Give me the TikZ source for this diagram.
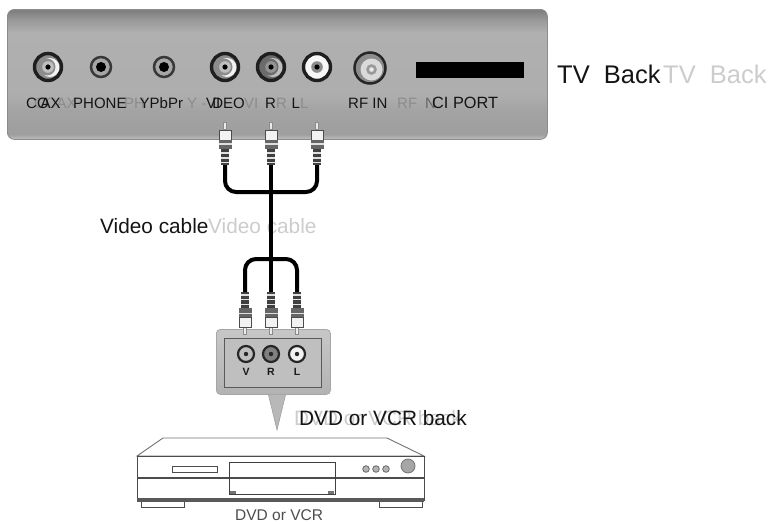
\documentclass[tikz,border=0pt]{standalone}
\usepackage{fontspec}
\setmainfont{Liberation Sans}
\pgfdeclareverticalshading{panelshade}{100bp}{
 color(0bp)=(black!25); color(25bp)=(black!25); color(27bp)=(black!38); color(36bp)=(black!36);
 color(42bp)=(black!32); color(66bp)=(black!31); color(71bp)=(black!40); color(74.5bp)=(black!50); color(75bp)=(black!50); color(100bp)=(black!50)}
\tikzset{
 x=1pt,y=-1pt,
 lbl/.style={inner sep=0pt,anchor=base west,text=black!92},
 ghost/.style={lbl,text=black!20},
 pghost/.style={lbl,text=black!45},
 big/.style={font=\fontsize{25.5}{30}\selectfont},
 mid/.style={font=\fontsize{20.8}{24}\selectfont},
 small/.style={font=\fontsize{15}{18}\selectfont},
 panelbox/.style={draw=black!45,line width=.8pt,shading=panelshade,rounded corners=7pt},
 rca/.style n args={3}{circle,inner sep=0pt,draw=black!88,line width=3.4pt,fill=#1,minimum size=27pt,path picture={
   \fill[#2] (path picture bounding box.center) ++(2,0.5) circle[radius=9.5pt];
   \fill[#1] (path picture bounding box.center) ++(-1,0) circle[radius=8.5pt];
   \fill[#3] (path picture bounding box.center) circle[radius=5.8pt];
   \fill[black] (path picture bounding box.center) circle[radius=2.6pt];}},
 phonejack/.style={circle,inner sep=0pt,draw=black!78,line width=2.5pt,fill=black!35,minimum size=20pt,
   path picture={\fill[black] (path picture bounding box.center) circle[radius=5pt];}},
 rfjack/.style={circle,inner sep=0pt,draw=black!85,line width=2.5pt,fill=black!45,minimum size=31pt,
   path picture={\fill[black!15] (path picture bounding box.center) ++(1.5,1.5) circle[radius=11pt];
   \draw[black!40] (path picture bounding box.center) ++(1.5,1.5) circle[radius=4pt];
   \fill[black!5] (path picture bounding box.center) ++(1.5,1.5) circle[radius=1.5pt];}},
 smalljack/.style={circle,inner sep=0pt,draw=black!85,line width=2.2pt,fill=#1,minimum size=16pt,
   path picture={\fill[black!85] (path picture bounding box.center) circle[radius=2.2pt];}},
 cable/.style={draw=black,line width=4pt},
 plug/.pic={
   \fill[black!45] (-2.4,0) rectangle (2.4,8);
   \fill[black!8] (-1.1,1) rectangle (1.1,7);
   \draw[black!70,fill=black!5,line width=.6pt] (-6,8) rectangle (6,18);
   \fill[black!60] (-6.5,18) rectangle (6.5,27);
   \fill[black!12] (-6.5,21) rectangle (6.5,22.5);
   \fill[black!75] (-4,27) rectangle (4,43);
   \fill[black!12] (-4,30) rectangle (4,31.5);
   \fill[black!12] (-4,35) rectangle (4,36.5);
   \fill[black!12] (-4,39.5) rectangle (4,41);
   \coordinate (end) at (0,43);
 },
}
\begin{document}
\begin{tikzpicture}
\useasboundingbox (0,0) rectangle (770,523);
% TV back panel
\node[panelbox,minimum width=540pt,minimum height=130pt,inner sep=0pt,anchor=north west] (tvpanel) at (7,9) {};
\node[rca={black!45}{black!5}{black!25}] (coax) at (48,67) {};
\node[phonejack] (phone) at (101,67) {};
\node[phonejack] (ypbpr) at (164,67) {};
\node[rca={black!45}{black!5}{black!25}] (video) at (225,67) {};
\node[rca={black!58}{black!25}{black!42}] (rjack) at (271,67) {};
\node[rca={black!3}{black!3}{black!45}] (ljack) at (317,67) {};
\node[rfjack] (rf) at (370,68) {};
\node[fill=black,inner sep=0pt,minimum width=108pt,minimum height=16pt,anchor=north west] (cislot) at (416,62) {};
% panel labels, each with its pale double
\node[pghost,small] (g1) at (34,108) {COAX};
\node[pghost,small] (g2) at (124,108) {PH};
\node[pghost,small] (g3) at (187,108) {Y -};
\node[pghost,small] (g4) at (244,108) {VI};
\node[pghost,small] (g5) at (276,108) {R};
\node[pghost,small] (g6) at (300,108) {L};
\node[pghost,small] (g7) at (397,108) {RF};
\node[lbl,small,text=black!60] (g8) at (425,108) {N};
\node[lbl,small] (t1) at (26,108) {CO\kern-8pt AX};
\node[lbl,small] (t2) at (73,108) {PHONE};
\node[lbl,small] (t3) at (139.5,108) {YPbPr};
\node[lbl,small] (t4) at (206,108) {VI\kern-8pt DEO};
\node[lbl,small] (t5) at (265,108) {R};
\node[lbl,small] (t6) at (291.5,108) {L};
\node[lbl,small] (t7) at (348,108) {RF IN};
\node[lbl,font=\fontsize{16.3}{18}\selectfont] (t8) at (432,108) {CI PORT};
% TV Back
\node[lbl,big] (tvback) at (557,83) {TV\ \ Back};
\node[ghost,big] (tvback2) at (663,83) {TV\ \ Back};
% Video cable
\node[lbl,mid] (vc) at (100,233) {Video cable};
\node[ghost,mid] (vc2) at (208,233) {Video cable};
% source panel
\fill[black!28,draw=black!40,line width=.5pt] (268,393) -- (286,393) -- (277,430) -- cycle;
\node[panelbox,draw=black!35,shading=axis,top color=black!22,bottom color=black!30,rounded corners=4pt,minimum width=114pt,minimum height=65pt,inner sep=0pt,anchor=north west] (srcpanel) at (216,329) {};
\node[draw=black!65,line width=1.2pt,fill=black!25,inner sep=0pt,minimum width=97pt,minimum height=49pt,anchor=north west] (srcinner) at (224,338) {};
\node[smalljack=black!25] (sv) at (246,354) {};
\node[smalljack=black!50] (sr) at (271,354) {};
\node[smalljack=black!5] (sl) at (297,354) {};
\node[inner sep=0pt,font=\fontsize{10.5}{12}\bfseries\selectfont,text=black!90] (lv) at (246,372) {V};
\node[inner sep=0pt,font=\fontsize{10.5}{12}\bfseries\selectfont,text=black!90] (lr) at (271,372) {R};
\node[inner sep=0pt,font=\fontsize{10.5}{12}\bfseries\selectfont,text=black!90] (ll) at (297,372) {L};
% plugs
\pic (pa) at (225,122) {plug};
\pic (pb) at (271,122) {plug};
\pic (pc) at (317,122) {plug};
\pic[yscale=-1] (qa) at (245,335) {plug};
\pic[yscale=-1] (qb) at (271,335) {plug};
\pic[yscale=-1] (qc) at (297,335) {plug};
% cables
\coordinate (upj) at (271,192);
\coordinate (loj) at (271,259);
\draw[cable,rounded corners=11pt] (paend) |- (upj) -| (pcend);
\draw[cable,rounded corners=11pt] (qaend) |- (loj) -| (qcend);
\draw[cable] (pbend) -- (qbend);
% DVD back label
\node[ghost,mid] (db2) at (294,425) {DVD or VCR back};
\node[lbl,mid] (db) at (299,425) {DVD or VCR back};
% player
\fill[white,draw=black!55,line width=.9pt] (137,456) -- (163,438) -- (387,438) -- (424,456) -- cycle;
\node[draw=black!70,line width=1.1pt,fill=white,inner sep=0pt,minimum width=287pt,minimum height=44pt,anchor=north west] (player) at (137,456) {};
\fill[white,draw=black!70,line width=.9pt] (141,501) rectangle (184,507);
\fill[white,draw=black!70,line width=.9pt] (379,501) rectangle (422,507);
\draw[black!70,line width=2pt] (137,478) -- (424,478);
\fill[black!65] (137,498) rectangle (424,502);
\draw[black!70,line width=1pt] (172,466) rectangle (217,472);
\draw[black!75,line width=1pt] (229,462) rectangle (335,494);
\fill[black!55] (230,491) rectangle (236,494);
\fill[black!55] (328,491) rectangle (334,494);
\foreach \bx in {366,376,386} \draw[black!60,fill=black!30,line width=.8pt] (\bx,469) circle[radius=3.3pt];
\draw[black!55,fill=black!35,line width=.8pt] (408,466) circle[radius=7pt];
\node[lbl,font=\fontsize{15.5}{18}\selectfont,text=black!70] (dvd) at (235,520) {DVD or VCR};
\end{tikzpicture}
\end{document}
